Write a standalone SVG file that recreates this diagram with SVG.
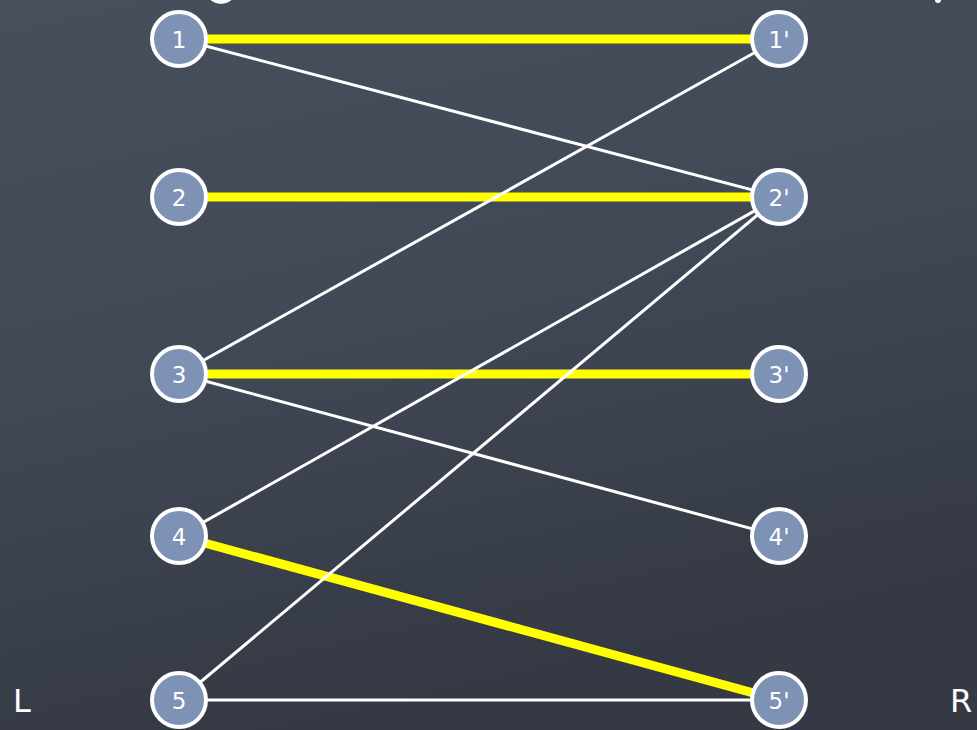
<svg xmlns="http://www.w3.org/2000/svg" width="977" height="730" viewBox="0 0 977 730">
<defs>
<linearGradient id="bg" x1="0" y1="0" x2="0.3" y2="1">
<stop offset="0" stop-color="#474e5c"/>
<stop offset="0.5" stop-color="#414856"/>
<stop offset="1" stop-color="#343943"/>
</linearGradient>
<style>
.n circle{fill:#7e92b5;stroke:#fff;stroke-width:4}
.n text{fill:#fff;font-family:"DejaVu Sans","Liberation Sans",sans-serif;font-size:23px;text-anchor:middle}
.m{stroke:#ffff00;stroke-width:9;fill:none}
.e{stroke:#fff;stroke-width:3;fill:none}
.side{fill:#fff;font-family:"DejaVu Sans","Liberation Sans",sans-serif;font-size:32px}
</style>
</defs>
<rect width="977" height="730" fill="url(#bg)"/>
<ellipse cx="221" cy="-6" rx="13" ry="10" fill="#fff"/>
<circle cx="938" cy="0" r="3" fill="#fff"/>
<g id="connectors">
<line class="m" x1="179" y1="39" x2="779" y2="39"/>
<line class="m" x1="179" y1="197" x2="779" y2="197"/>
<line class="m" x1="179" y1="374" x2="779" y2="374"/>
<line class="m" x1="179" y1="536" x2="779" y2="700"/>
<line class="e" x1="179" y1="39" x2="779" y2="197"/>
<line class="e" x1="179" y1="374" x2="779" y2="39"/>
<line class="e" x1="179" y1="374" x2="779" y2="536"/>
<line class="e" x1="179" y1="536" x2="779" y2="197"/>
<line class="e" x1="179" y1="700" x2="779" y2="197"/>
<line class="e" x1="179" y1="700" x2="779" y2="700"/>
</g>
<g id="n1" class="n"><circle cx="179" cy="39" r="27"/><text x="179" y="48">1</text></g>
<g id="n2" class="n"><circle cx="179" cy="197" r="27"/><text x="179" y="206">2</text></g>
<g id="n3" class="n"><circle cx="179" cy="374" r="27"/><text x="179" y="383">3</text></g>
<g id="n4" class="n"><circle cx="179" cy="536" r="27"/><text x="179" y="545">4</text></g>
<g id="n5" class="n"><circle cx="179" cy="700" r="27"/><text x="179" y="709">5</text></g>
<g id="r1" class="n"><circle cx="779" cy="39" r="27"/><text x="779" y="48">1'</text></g>
<g id="r2" class="n"><circle cx="779" cy="197" r="27"/><text x="779" y="206">2'</text></g>
<g id="r3" class="n"><circle cx="779" cy="374" r="27"/><text x="779" y="383">3'</text></g>
<g id="r4" class="n"><circle cx="779" cy="536" r="27"/><text x="779" y="545">4'</text></g>
<g id="r5" class="n"><circle cx="779" cy="700" r="27"/><text x="779" y="709">5'</text></g>
<text class="side" x="13" y="712">L</text>
<text class="side" x="950" y="712">R</text>
</svg>
